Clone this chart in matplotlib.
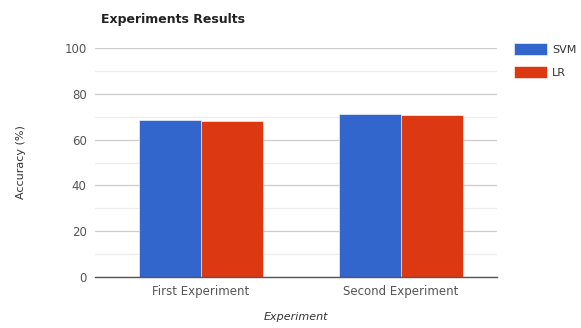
import numpy as np
import matplotlib
matplotlib.use('Agg')
import matplotlib.pyplot as plt

# data
experiments = ['First Experiment', 'Second Experiment']
svm_acc = [68.6, 71.2]
lr_acc = [68.3, 70.6]

plt.rcParams['font.family'] = ['DejaVu Sans']

fig = plt.figure(figsize=(5.81, 3.28), dpi=100)
ax = fig.add_axes([95 / 581, 51 / 328, 402 / 581, 229 / 328])

x = np.arange(len(experiments))
w = 0.31
ax.bar(x - w / 2, svm_acc, w, color='#3366cc', label='SVM', zorder=3,
       edgecolor='white', linewidth=0.4)
ax.bar(x + w / 2, lr_acc, w, color='#dc3912', label='LR', zorder=3,
       edgecolor='white', linewidth=0.4)

ax.set_xlim(-0.53, 1.48)
ax.set_ylim(0, 100)
ax.set_yticks(np.arange(0, 101, 20))
ax.set_yticks(np.arange(10, 100, 20), minor=True)
ax.set_xticks(x)
ax.set_xticklabels(experiments)

ax.grid(axis='y', which='major', color='#cccccc', lw=0.9, zorder=0)
ax.grid(axis='y', which='minor', color='#ececec', lw=0.9, zorder=0)
ax.axhline(0, color='#555555', lw=1.0, zorder=4, clip_on=False)
for s in ax.spines.values():
    s.set_visible(False)
ax.tick_params(axis='both', which='both', length=0, labelsize=8.5,
               colors='#555555')
ax.tick_params(axis='y', pad=6)
ax.tick_params(axis='x', pad=6)

ax.set_ylabel('Accuracy (%)', fontsize=8, color='#333333', labelpad=28)
ax.set_xlabel('Experiment', fontsize=8, style='italic', color='#333333',
              labelpad=10)
fig.text(101 / 581, 1 - 20 / 328, 'Experiments Results', fontsize=9,
         fontweight='bold', color='#222222', va='center', ha='left')

ax.legend(loc='upper left', bbox_to_anchor=(514 / 581, 1 - 43 / 328),
          bbox_transform=fig.transFigure, borderaxespad=0, borderpad=0,
          frameon=False, fontsize=8, handlelength=3.0, handleheight=1.3,
          labelspacing=1.0, handletextpad=0.4, labelcolor='#333333')

plt.savefig('out.png', dpi=100)
plt.close()
